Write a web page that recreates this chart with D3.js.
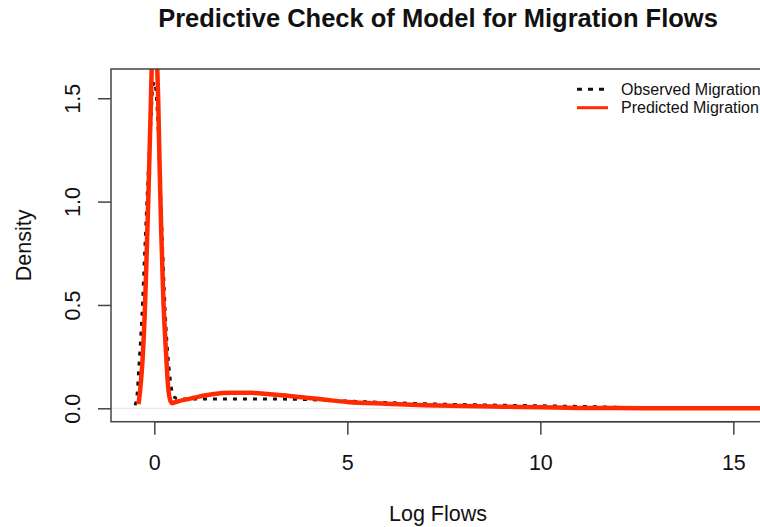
<!DOCTYPE html>
<html>
<head>
<meta charset="utf-8">
<title>Predictive Check of Model for Migration Flows</title>
<script src="https://cdnjs.cloudflare.com/ajax/libs/d3/7.8.5/d3.min.js"></script>
<style>
  body { margin: 0; background: #fff; }
  svg { display: block; font-family: "Liberation Sans", Arial, Helvetica, sans-serif; }
</style>
</head>
<body>
<div id="chart"></div>
<script>
// observed density (black dotted)
var obsX = [-0.5, -0.45, -0.4, -0.32, -0.25, -0.18, -0.1, -0.04, 0, 0.05, 0.1, 0.16, 0.22, 0.3, 0.38, 0.45, 0.55, 0.8, 1, 2, 3, 4, 5, 6, 7, 8, 9, 10, 11, 12, 12.5, 13];
var obsY = [0.015, 0.06, 0.2, 0.45, 0.75, 1.05, 1.35, 1.55, 1.58, 1.52, 1.35, 1.05, 0.75, 0.4, 0.2, 0.09, 0.05, 0.045, 0.045, 0.045, 0.045, 0.042, 0.035, 0.028, 0.022, 0.018, 0.015, 0.012, 0.009, 0.005, 0.003, 0.001];

// predicted density (red)
var predX = [-0.41, -0.36, -0.3, -0.24, -0.19, -0.15, -0.1, -0.06, 0, 0.06, 0.1, 0.14, 0.18, 0.23, 0.3, 0.36, 0.42, 0.46, 0.6, 0.8, 1, 1.5, 2, 2.5, 3, 3.5, 4, 4.5, 5, 6, 7, 8, 9, 10, 11, 12, 13, 16];
var predY = [0.02, 0.1, 0.25, 0.5, 0.8, 1.05, 1.4, 1.7, 1.9, 1.75, 1.5, 1.15, 0.85, 0.55, 0.28, 0.1, 0.035, 0.025, 0.033, 0.042, 0.05, 0.068, 0.075, 0.075, 0.068, 0.06, 0.05, 0.04, 0.031, 0.022, 0.015, 0.011, 0.008, 0.005, 0.002, 0.001, 0, 0];

var xTicks = [0, 5, 10, 15];
var yTicks = [0, 0.5, 1, 1.5];
var yTickLabels = ["0.0", "0.5", "1.0", "1.5"];
var legendLabels = ["Observed Migration", "Predicted Migration"];

var w = 760, h = 527;
var pLeft = 111, pRight = 765, pTop = 69, pBottom = 421.7;

var svg = d3.select('#chart').append('svg')
  .attr('width', w)
  .attr('height', h);

var x = d3.scaleLinear().domain([-1.122, 15.82]).range([pLeft, pRight]);
var y = d3.scaleLinear().domain([-0.0648, 1.6415]).range([pBottom, pTop]);

svg.append('clipPath').attr('id', 'plotclip')
  .append('rect')
  .attr('x', pLeft).attr('y', pTop)
  .attr('width', pRight - pLeft).attr('height', pBottom - pTop);

// faint zero line
svg.append('line')
  .attr('x1', pLeft).attr('x2', pRight)
  .attr('y1', y(0)).attr('y2', y(0))
  .attr('stroke', '#e4e4e4').attr('stroke-width', 1);

var obs = obsX.map(function(d, i){ return [d, obsY[i]]; });
var pred = predX.map(function(d, i){ return [d, predY[i]]; });

var line = d3.line()
  .x(function(d){ return x(d[0]); })
  .y(function(d){ return y(d[1]); })
  .curve(d3.curveMonotoneX);

var g = svg.append('g').attr('clip-path', 'url(#plotclip)');

g.append('path').datum(obs)
  .attr('d', line)
  .attr('fill', 'none')
  .attr('stroke', '#111')
  .attr('stroke-width', 3)
  .attr('stroke-dasharray', '4,6');

g.append('path').datum(pred)
  .attr('d', line)
  .attr('fill', 'none')
  .attr('stroke', '#ff2a00')
  .attr('stroke-width', 4.5)
  .attr('stroke-linejoin', 'round');

// box
svg.append('rect')
  .attr('x', pLeft).attr('y', pTop)
  .attr('width', pRight - pLeft).attr('height', pBottom - pTop)
  .attr('fill', 'none')
  .attr('stroke', '#444')
  .attr('stroke-width', 1.5);

// x axis
var xAxis = d3.axisBottom(x).tickValues(xTicks).tickSize(13).tickPadding(20)
  .tickFormat(d3.format('d'));
var gx = svg.append('g').attr('transform', 'translate(0,' + pBottom + ')').call(xAxis);
gx.select('.domain').attr('d', 'M' + x(0) + ',0H' + x(15)).attr('stroke', '#444').attr('stroke-width', 1.5);
gx.selectAll('.tick line').attr('stroke', '#444').attr('stroke-width', 1.5);
gx.selectAll('.tick text').attr('font-size', 21.5).attr('fill', '#111')
  .attr('font-family', '"Liberation Sans", Arial, sans-serif');

// y axis
var yAxis = d3.axisLeft(y).tickValues(yTicks).tickSize(13)
  .tickFormat(function(d, i){ return yTickLabels[i]; });
var gy = svg.append('g').attr('transform', 'translate(' + pLeft + ',0)').call(yAxis);
gy.select('.domain').remove();
gy.selectAll('.tick line').attr('stroke', '#444').attr('stroke-width', 1.5);
gy.selectAll('.tick text')
  .attr('x', null).attr('dy', null)
  .attr('transform', 'translate(-31,0) rotate(-90)')
  .attr('text-anchor', 'middle')
  .attr('font-size', 21.5).attr('fill', '#111')
  .attr('font-family', '"Liberation Sans", Arial, sans-serif');

// title & labels
svg.append('text')
  .attr('x', (pLeft + pRight) / 2).attr('y', 27)
  .attr('text-anchor', 'middle')
  .attr('font-size', 25.5).attr('font-weight', 'bold').attr('fill', '#111')
  .text('Predictive Check of Model for Migration Flows');

svg.append('text')
  .attr('x', (pLeft + pRight) / 2).attr('y', 521)
  .attr('text-anchor', 'middle')
  .attr('font-size', 21.5).attr('fill', '#111')
  .text('Log Flows');

svg.append('text')
  .attr('transform', 'translate(31,' + ((pTop + pBottom) / 2) + ') rotate(-90)')
  .attr('text-anchor', 'middle')
  .attr('font-size', 21.5).attr('fill', '#111')
  .text('Density');

// legend
var legend = svg.append('g');
var styles = [
  {stroke: '#111', width: 3, dash: '5,6'},
  {stroke: '#ff2a00', width: 3, dash: null}
];
legendLabels.forEach(function(lbl, i){
  var ly = 89.3 + i * 18.4;
  legend.append('line')
    .attr('x1', 577).attr('x2', 608).attr('y1', ly).attr('y2', ly)
    .attr('stroke', styles[i].stroke)
    .attr('stroke-width', styles[i].width)
    .attr('stroke-dasharray', styles[i].dash);
  legend.append('text')
    .attr('x', 621).attr('y', ly + 5.5)
    .attr('font-size', 16).attr('fill', '#111')
    .text(lbl);
});
</script>
</body>
</html>
